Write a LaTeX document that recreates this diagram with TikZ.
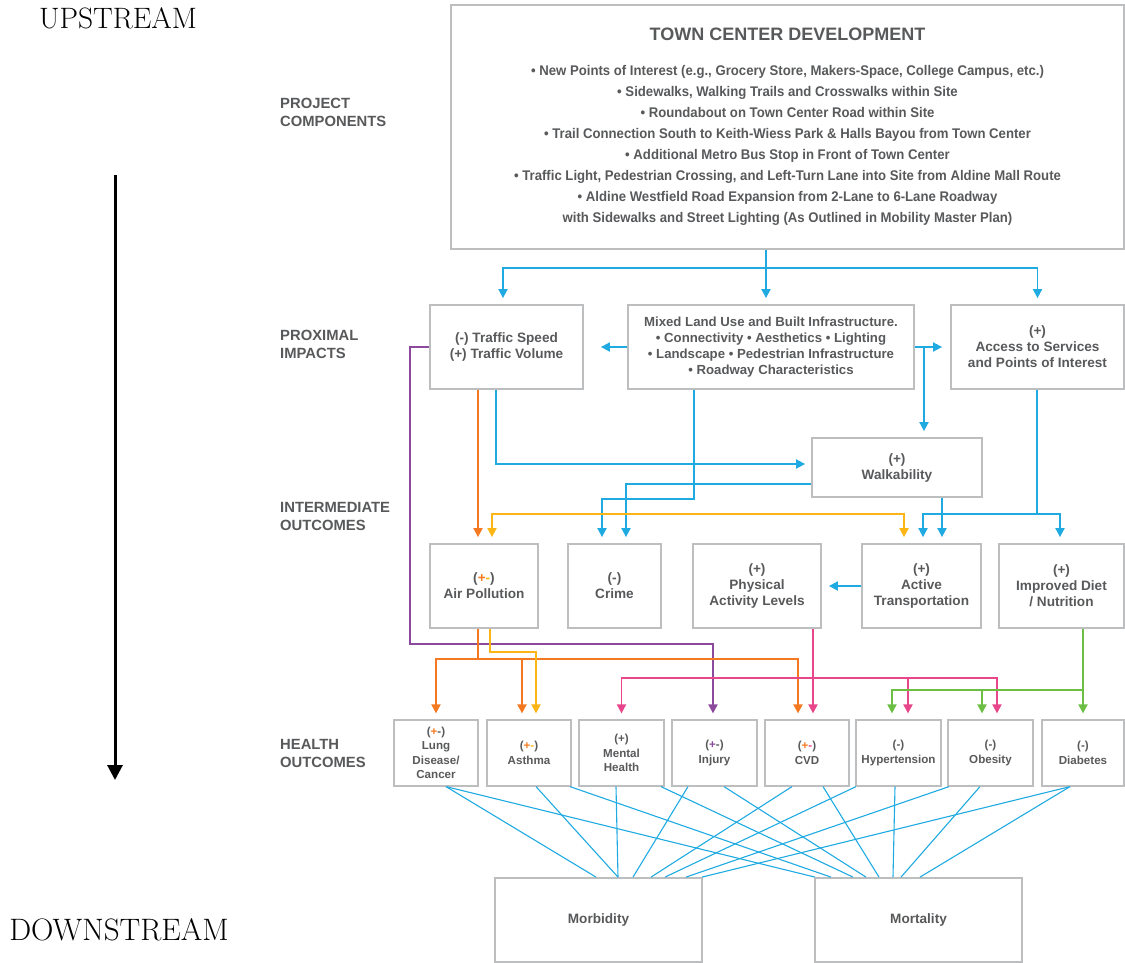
\documentclass[tikz,border=0pt]{standalone}
\usepackage{fontspec}
\newfontfamily\sans{Liberation Sans}
\newfontfamily\narrow[FakeStretch=0.94]{Liberation Sans}
\usetikzlibrary{arrows.meta}
\definecolor{boxgray}{HTML}{BCBEC0}
\definecolor{txtgray}{HTML}{58595B}
\definecolor{blline}{HTML}{1FAAE1}
\definecolor{orline}{HTML}{F47920}
\definecolor{ylline}{HTML}{FDB515}
\definecolor{puline}{HTML}{8B4A9C}
\definecolor{pkline}{HTML}{E8458B}
\definecolor{grline}{HTML}{6CBE45}

\begin{document}
\begin{tikzpicture}[x=1pt,y=-1pt]
  \tikzstyle{every node}=[text=txtgray]
  \tikzstyle{box}=[draw=boxgray, line width=1.8pt, align=center, inner sep=2pt, font=\sans\bfseries\fontsize{13.6}{16}\selectfont]
  \tikzstyle{hbox}=[box, line width=1.2pt, minimum height=66pt, font=\sans\bfseries\fontsize{11.6}{14.5}\selectfont]
  \tikzstyle{stage}=[anchor=west, align=left, inner sep=0pt, font=\sans\bfseries\fontsize{14.8}{18}\selectfont]
  \tikzstyle{arr}=[-{Triangle[length=9pt,width=9pt]}, shorten >=6pt]
  \tikzstyle{bl}=[draw=blline, line width=1.8pt]
  \tikzstyle{or}=[draw=orline, line width=1.8pt]
  \tikzstyle{yl}=[draw=ylline, line width=1.8pt]
  \tikzstyle{pu}=[draw=puline, line width=1.8pt]
  \tikzstyle{pk}=[draw=pkline, line width=1.8pt]
  \tikzstyle{gr}=[draw=grline, line width=1.8pt]
  \tikzstyle{fan}=[draw=blline, line width=1.1pt]
  \useasboundingbox (0,0) rectangle (1125,962);

  % upstream / downstream
  \node[text=black, font=\fontsize{29.5}{32}\selectfont] (upstream) at (118,18) {UPSTREAM};
  \node[text=black, font=\fontsize{31}{34}\selectfont] (downstream) at (119,930) {DOWNSTREAM};
  \coordinate (axtop) at (115,175);
  \coordinate (axbot) at (115,780);
  \draw[line width=3pt, -{Triangle[length=15pt,width=15pt]}] (axtop) -- (axbot);

  \node[stage] (proj) at (280,112) {PROJECT\\COMPONENTS};
  \node[stage] (prox) at (280,344) {PROXIMAL\\IMPACTS};
  \node[stage] (inter) at (280,516) {INTERMEDIATE\\OUTCOMES};
  \node[stage] (health) at (280,753) {HEALTH\\OUTCOMES};

  \node[box, minimum width=673pt, minimum height=244pt, font=\narrow\bfseries\fontsize{14}{21}\selectfont] (top) at (787.5,127)
    {{\sans\fontsize{18}{21}\selectfont TOWN CENTER DEVELOPMENT}\\[14pt]
     • New Points of Interest (e.g., Grocery Store, Makers-Space, College Campus, etc.)\\
     • Sidewalks, Walking Trails and Crosswalks within Site\\
     • Roundabout on Town Center Road within Site\\
     • Trail Connection South to Keith-Wiess Park \& Halls Bayou from Town Center\\
     • Additional Metro Bus Stop in Front of Town Center\\
     • Traffic Light, Pedestrian Crossing, and Left-Turn Lane into Site from Aldine Mall Route\\
     • Aldine Westfield Road Expansion from 2-Lane to 6-Lane Roadway\\
     with Sidewalks and Street Lighting (As Outlined in Mobility Master Plan)};

  \node[box, minimum width=153pt, minimum height=84pt] (traffic) at (506.5,347) {(-) Traffic Speed\\(+) Traffic Volume};
  \node[box, minimum width=286pt, minimum height=84pt, font=\sans\bfseries\fontsize{13.2}{16}\selectfont] (mixed) at (771,347)
    {Mixed Land Use and Built Infrastructure.\\• Connectivity • Aesthetics • Lighting\\• Landscape • Pedestrian Infrastructure\\• Roadway Characteristics};
  \node[box, minimum width=173pt, minimum height=84pt] (access) at (1037.5,347) {(+)\\Access to Services\\and Points of Interest};
  \node[box, minimum width=170pt, minimum height=59pt] (walk) at (897,467.5) {(+)\\Walkability};

  \node[box, minimum width=108pt, minimum height=84pt] (air) at (484,586) {(\textcolor{orline}{+}\textcolor{ylline}{-})\\Air Pollution};
  \node[box, minimum width=93pt, minimum height=84pt] (crime) at (614.5,586) {(-)\\Crime};
  \node[box, minimum width=128pt, minimum height=84pt] (phys) at (757,586) {(+)\\Physical\\Activity Levels};
  \node[box, minimum width=119pt, minimum height=84pt] (active) at (921.5,586) {(+)\\Active\\Transportation};
  \node[box, minimum width=125pt, minimum height=84pt] (diet) at (1061.5,586) {(+)\\Improved Diet\\/ Nutrition};

  \node[hbox, minimum width=84pt] (lung) at (436,753) {(\textcolor{orline}{+}-)\\Lung\\Disease/\\Cancer};
  \node[hbox, minimum width=84pt] (asthma) at (529,753) {(\textcolor{orline}{+}\textcolor{ylline}{-})\\Asthma};
  \node[hbox, minimum width=85pt] (mental) at (621.5,753) {(+)\\Mental\\Health};
  \node[hbox, minimum width=85pt] (injury) at (714.5,753) {(\textcolor{puline}{+}-)\\Injury};
  \node[hbox, minimum width=84pt] (cvd) at (807,753) {(\textcolor{orline}{+}\textcolor{pkline}{-})\\CVD};
  \node[hbox, minimum width=85pt] (hyper) at (898.5,753) {(-)\\Hypertension};
  \node[hbox, minimum width=85pt] (obesity) at (990.5,753) {(-)\\Obesity};
  \node[hbox, minimum width=82pt] (diabetes) at (1083,753) {(-)\\Diabetes};

  \node[box, minimum width=207pt, minimum height=84pt] (morb) at (598.5,920) {Morbidity};
  \node[box, minimum width=207pt, minimum height=84pt] (mort) at (918.5,920) {Mortality};

  % project -> proximal
  \coordinate (tb) at (766,268);
  \draw[bl] (top.south -| tb) -- (tb);
  \draw[bl,arr] (tb) -| ([xshift=-3.5pt]traffic.north);
  \draw[bl,arr] (tb) -- (mixed.north -| tb);
  \draw[bl,arr] (tb) -| (access.north);

  % proximal -> intermediate
  \draw[bl,arr,shorten >=17pt] (mixed.west) -- (traffic.east);
  \draw[bl,arr,shorten >=8pt] (mixed.east) -- (access.west);
  \coordinate (mw) at (924,347);
  \draw[bl,arr] (mw) -- (walk.north -| mw);
  \draw[bl,arr] ([xshift=-10.5pt]traffic.south) |- ([yshift=3.5pt]walk.west);
  \coordinate (cm) at (602,499);
  \draw[bl,arr] ([xshift=-77pt]mixed.south) |- (cm) -- (crime.north -| cm);
  \draw[bl,arr] ([yshift=-16.5pt]walk.west) -| ([xshift=11.5pt]crime.north);
  \draw[bl,arr] ([xshift=45pt]walk.south) -- ([xshift=20.5pt]active.north);
  \coordinate (ad) at (1037,514);
  \draw[bl] (access.south -| ad) -- (ad);
  \draw[bl,arr] (ad) -| ([xshift=1.5pt]active.north);
  \draw[bl,arr] (ad) -| ([xshift=-1.5pt]diet.north);
  \draw[bl,arr,shorten >=7pt] (active.west) -- (phys.east);
  \coordinate (ya) at (694,514);
  \draw[yl,arr] (ya) -| ([xshift=8pt]air.north);
  \draw[yl,arr] (ya) -| ([xshift=-17.5pt]active.north);
  \draw[or,arr] ([xshift=-28.5pt]traffic.south) -- ([xshift=-6pt]air.north);

  % intermediate -> health
  \coordinate (pt) at (410,644);
  \draw[pu,arr] (traffic.west) -| (pt) -| ([xshift=-1.5pt]injury.north);
  \coordinate (oa) at (478,659);
  \draw[or] (air.south -| oa) -- (oa);
  \draw[or,arr] (oa) -| (lung.north);
  \draw[or,arr] (oa) -| ([xshift=-7pt]asthma.north);
  \draw[or,arr] (oa) -| ([xshift=-9pt]cvd.north);
  \coordinate (yb) at (536,652);
  \draw[yl,arr] ([xshift=6pt]air.south) |- (yb) -- (asthma.north -| yb);
  \draw[pk,arr] ([xshift=56pt]phys.south) -- ([xshift=6pt]cvd.north);
  \coordinate (pa) at (813,678);
  \draw[pk,arr] (pa) -| (mental.north);
  \draw[pk,arr] (pa) -| ([xshift=9.5pt]hyper.north);
  \draw[pk,arr] (pa) -| ([xshift=6.5pt]obesity.north);
  \draw[gr,arr] ([xshift=21.5pt]diet.south) -- (diabetes.north);
  \coordinate (ga) at (1083,690);
  \draw[gr,arr] (ga) -| ([xshift=-6.5pt]hyper.north);
  \draw[gr,arr] (ga) -| ([xshift=-8.5pt]obesity.north);

  % health -> morbidity / mortality
  \foreach \n/\a/\b/\c/\d in {lung/10/-2.5/10/-103.5, asthma/7/19.5/41/-87.5,
      mental/-5.5/19.5/39.5/-65.5, injury/-26.5/34.5/9.5/-52.5,
      cvd/-15/52.5/16/-39.5, hyper/-42.5/66.5/-3.5/-25.5,
      obesity/-41.5/87.5/-10.5/-17.5, diabetes/-13/103.5/-13/1.5}
  {
    \draw[fan] ([xshift=\a pt]\n.south) -- ([xshift=\b pt]morb.north);
    \draw[fan] ([xshift=\c pt]\n.south) -- ([xshift=\d pt]mort.north);
  }
\end{tikzpicture}
\end{document}
